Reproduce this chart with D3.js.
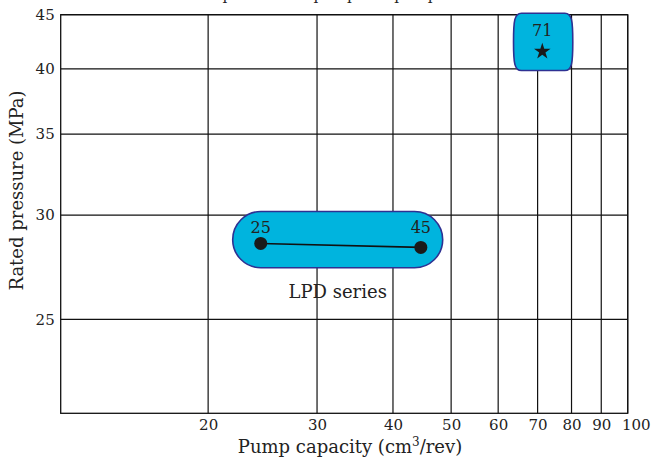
<!DOCTYPE html>
<html>
<head>
<meta charset="utf-8">
<script src="https://cdn.jsdelivr.net/npm/d3@7"></script>
<style>
  html, body { margin: 0; padding: 0; background: #fff; }
  svg { display: block; }
  text { font-family: "DejaVu Serif", "Liberation Serif", serif; fill: #222; }
</style>
</head>
<body>
<svg id="chart" width="655" height="465"></svg>
<script>
// ---- data ----
const xTicks = [20, 30, 40, 50, 60, 70, 80, 90, 100];
const yTicks = [25, 30, 35, 40, 45];
const xDomain = [11.7, 100];
const yDomain = [21.49, 45];

const lpdCapacity = [24.3, 44.5];
const lpdPressure = [28.5, 28.3];
const lpdLabels = ["25", "45"];
const lpdRegionCapacity = [21.9, 48.4];
const lpdRegionPressure = [27.3, 30.2];
const lpdName = "LPD series";

const pumpCapacity = [71.3];
const pumpPressure = [41.5];
const pumpLabels = ["71"];
const pumpRegionCapacity = [63.7, 80.4];
const pumpRegionPressure = [39.85, 45.15];

const titleText = "Rated pressure of pump and pump series";
const xTitle = ["Pump capacity (cm", "3", "/rev)"];
const yTitle = "Rated pressure (MPa)";

// ---- layout ----
const svg = d3.select("#chart");
const pLeft = 60.7, pRight = 627.7, pTop = 14.7, pBottom = 413.3;

const x = d3.scalePow().exponent(-0.05).domain(xDomain).range([pLeft, pRight]);
const y = d3.scalePow().exponent(-0.5).domain(yDomain).range([pBottom, pTop]);

const fillColor = "#00b4de";
const strokeColor = "#2e3192";

// title, clipped at the very top as in the source figure
svg.append("text")
  .attr("x", 330).attr("y", 0)
  .attr("text-anchor", "middle")
  .style("font-size", "15px")
  .text(titleText);

// grid lines
const grid = svg.append("g");
grid.selectAll("line.v").data(xTicks).join("line")
  .attr("x1", d => x(d)).attr("x2", d => x(d))
  .attr("y1", pTop).attr("y2", pBottom)
  .attr("stroke", "#111").attr("stroke-width", 1.2);
grid.selectAll("line.h").data(yTicks).join("line")
  .attr("x1", pLeft).attr("x2", pRight)
  .attr("y1", d => y(d)).attr("y2", d => y(d))
  .attr("stroke", "#111").attr("stroke-width", 1.2);
// frame
svg.append("rect")
  .attr("x", pLeft).attr("y", pTop)
  .attr("width", pRight - pLeft).attr("height", pBottom - pTop)
  .attr("fill", "none").attr("stroke", "#111").attr("stroke-width", 1.3);

// axes tick labels
const xAxis = d3.axisBottom(x).tickValues(xTicks).tickSize(0).tickPadding(0).tickFormat(d3.format("d"));
const gx = svg.append("g").attr("transform", `translate(0,${pBottom})`).call(xAxis);
gx.select(".domain").remove();
gx.selectAll("text").attr("y", 17).attr("dy", 0)
  .attr("dx", d => d === 100 ? 8 : 0)
  .style("font-size", "15px").style("font-family", "DejaVu Serif").attr("fill", "#222");

const yAxis = d3.axisLeft(y).tickValues(yTicks).tickSize(0).tickPadding(6).tickFormat(d3.format("d"));
const gy = svg.append("g").attr("transform", `translate(${pLeft},0)`).call(yAxis);
gy.select(".domain").remove();
gy.selectAll("text").style("font-size", "15px").style("font-family", "DejaVu Serif").attr("fill", "#222");

// axis titles
const xt = svg.append("text")
  .attr("x", 350).attr("y", 453)
  .attr("text-anchor", "middle")
  .style("font-size", "18px");
xt.append("tspan").text(xTitle[0]);
xt.append("tspan").attr("dy", -7).style("font-size", "12px").text(xTitle[1]);
xt.append("tspan").attr("dy", 7).text(xTitle[2]);

svg.append("text")
  .attr("transform", `translate(23,190.5) rotate(-90)`)
  .attr("text-anchor", "middle")
  .style("font-size", "18px")
  .text(yTitle);

// LPD region (capsule)
const lx0 = x(lpdRegionCapacity[0]), lx1 = x(lpdRegionCapacity[1]);
const ly0 = y(lpdRegionPressure[1]), ly1 = y(lpdRegionPressure[0]);
svg.append("rect")
  .attr("x", lx0).attr("y", ly0)
  .attr("width", lx1 - lx0).attr("height", ly1 - ly0)
  .attr("rx", (ly1 - ly0) / 2).attr("ry", (ly1 - ly0) / 2)
  .attr("fill", fillColor).attr("stroke", strokeColor).attr("stroke-width", 1.6);

const lpd = lpdCapacity.map((c, i) => ({ c, p: lpdPressure[i], label: lpdLabels[i] }));
svg.append("path")
  .datum(lpd)
  .attr("d", d3.line().x(d => x(d.c)).y(d => y(d.p)))
  .attr("stroke", "#111").attr("stroke-width", 1.6).attr("fill", "none");
svg.selectAll("circle.lpd").data(lpd).join("circle")
  .attr("cx", d => x(d.c)).attr("cy", d => y(d.p)).attr("r", 6.5)
  .attr("fill", "#1a1a1a");
svg.selectAll("text.lpd").data(lpd).join("text")
  .attr("x", d => x(d.c)).attr("y", d => y(lpdPressure[0]) - 10)
  .attr("text-anchor", "middle")
  .style("font-size", "16px")
  .text(d => d.label);
svg.append("text")
  .attr("x", (lx0 + lx1) / 2).attr("y", ly1 + 30)
  .attr("text-anchor", "middle")
  .style("font-size", "18px")
  .text(lpdName);

// 71 region (barrel shape)
const px0 = x(pumpRegionCapacity[0]), px1 = x(pumpRegionCapacity[1]);
const py0 = y(pumpRegionPressure[1]), py1 = y(pumpRegionPressure[0]);
const ins = 8, k = 7, pm = (py0 + py1) / 2;
const barrel = d3.path();
barrel.moveTo(px0 + ins, py0);
barrel.lineTo(px1 - ins, py0);
barrel.bezierCurveTo(px1 - 1, py0, px1, py0 + k, px1, pm);
barrel.bezierCurveTo(px1, py1 - k, px1 - 1, py1, px1 - ins, py1);
barrel.lineTo(px0 + ins, py1);
barrel.bezierCurveTo(px0 + 1, py1, px0, py1 - k, px0, pm);
barrel.bezierCurveTo(px0, py0 + k, px0 + 1, py0, px0 + ins, py0);
barrel.closePath();
svg.append("path").attr("d", barrel.toString())
  .attr("fill", fillColor).attr("stroke", strokeColor).attr("stroke-width", 1.6);

const pump = pumpCapacity.map((c, i) => ({ c, p: pumpPressure[i], label: pumpLabels[i] }));
svg.selectAll("path.star").data(pump).join("path")
  .attr("transform", d => `translate(${x(d.c)},${y(d.p)})`)
  .attr("d", d3.symbol().type(d3.symbolStar).size(85))
  .attr("fill", "#1a1a1a");
svg.selectAll("text.pump").data(pump).join("text")
  .attr("x", d => x(d.c)).attr("y", d => y(d.p) - 16)
  .attr("text-anchor", "middle")
  .style("font-size", "16px")
  .text(d => d.label);
</script>
</body>
</html>
